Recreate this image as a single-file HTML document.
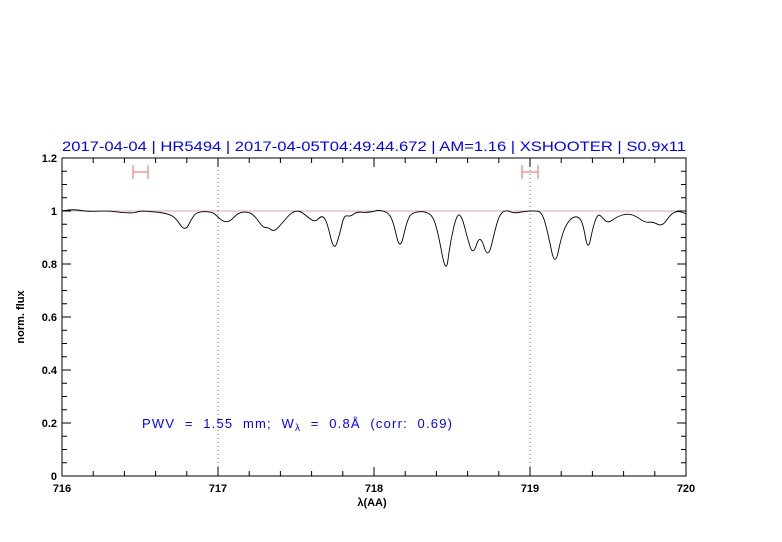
<!DOCTYPE html>
<html><head><meta charset="utf-8"><style>html,body{margin:0;padding:0;background:#fff}svg{display:block}</style></head>
<body>
<svg width="782" height="542" viewBox="0 0 782 542" xmlns="http://www.w3.org/2000/svg" font-family="'Liberation Sans',sans-serif">
<rect width="782" height="542" fill="#fff"/>
<text x="374" y="151" text-anchor="middle" fill="#0000ff" font-size="14" textLength="624" lengthAdjust="spacingAndGlyphs">2017-04-04 | HR5494 | 2017-04-05T04:49:44.672 | AM=1.16 | XSHOOTER | S0.9x11</text>
<line x1="62" y1="211" x2="686" y2="211" stroke="#c09090" stroke-width="0.7"/>
<line x1="218" y1="158" x2="218" y2="476" stroke="#444" stroke-width="0.8" stroke-dasharray="1,3"/>
<line x1="530" y1="158" x2="530" y2="476" stroke="#444" stroke-width="0.8" stroke-dasharray="1,3"/>
<g stroke="#f08080" stroke-width="1.2">
<line x1="133" y1="172" x2="148" y2="172"/><line x1="133" y1="165" x2="133" y2="179"/><line x1="148" y1="165" x2="148" y2="179"/>
<line x1="522" y1="172" x2="538" y2="172"/><line x1="522" y1="165" x2="522" y2="179"/><line x1="538" y1="165" x2="538" y2="179"/>
</g>
<path fill="none" stroke="#000" stroke-width="0.9" d="M62,211 L63,210.7 Q63,210.7 69,210 Q75,209.3 81.5,210.5 Q88,211.7 98,211.2 Q108,210.7 115,211.7 Q122,212.7 128.5,212.85 Q135,213 137.5,211.85 Q140,210.7 147.5,211.35 Q155,212 160,212.5 Q165,213 170,214.85 Q175,216.7 180,224.35 Q185,232 188.5,225 Q192,218 194.5,214.85 Q197,211.7 204.5,211.7 Q212,211.7 214.5,213.85 Q217,216 220,218.85 Q223,221.7 226.5,221.7 Q230,221.7 234,217.2 Q238,212.7 243,212.2 Q248,211.7 251.5,213.85 Q255,216 259,221.85 Q263,227.7 265.5,227.5 Q268,227.3 271,229.65 Q274,232 278,227.65 Q282,223.3 287,217.5 Q292,211.7 296,211.2 Q300,210.7 304,214 Q308,217.3 311.5,219.8 Q315,222.3 318.5,218.65 Q322,215 324.5,218.35 Q327,221.7 330.5,236.85 Q334,252 337,242.65 Q340,233.3 342,224.15 Q344,215 347,215.85 Q350,216.7 353.5,214.2 Q357,211.7 361,212.2 Q365,212.7 370,212 Q375,211.3 376,210.65 Q377,210 382,210.85 Q387,211.7 390,215.85 Q393,220 396.5,236 Q400,252 403.5,236 Q407,220 410,215.85 Q413,211.7 421.5,211.7 Q430,211.7 433.5,219.2 Q437,226.7 441.5,251.35 Q446,276 448,259.65 Q450,243.3 453.5,228.3 Q457,213.3 459.5,215 Q462,216.7 464.5,226.7 Q467,236.7 470,246.35 Q473,256 476.5,244.65 Q480,233.3 484,246.65 Q488,260 491.5,245 Q495,230 497.5,221.65 Q500,213.3 503.5,211.65 Q507,210 510,211.65 Q513,213.3 518,212.5 Q523,211.7 528,211.2 Q533,210.7 537.5,211.2 Q542,211.7 545,222.5 Q548,233.3 551.5,250.65 Q555,268 558.5,250.65 Q562,233.3 566,225.8 Q570,218.3 574,217.15 Q578,216 580.5,219.65 Q583,223.3 585.5,237.65 Q588,252 590.5,239.35 Q593,226.7 595.5,220 Q598,213.3 600.5,215.8 Q603,218.3 605.5,220.8 Q608,223.3 612.5,220 Q617,216.7 622.5,215 Q628,213.3 632.5,215 Q637,216.7 641,219.7 Q645,222.7 649,222.2 Q653,221.7 657.5,224.2 Q662,226.7 666,220.85 Q670,215 673.5,212.85 Q677,210.7 681,212 Q685,213.3 686,214"/>
<rect x="62" y="158" width="624" height="318" fill="none" stroke="#000" stroke-width="1"/>
<g stroke="#000" stroke-width="1">
<path d="M62,476v-9M218,476v-9M374,476v-9M530,476v-9M686,476v-9M62,158v9M218,158v9M374,158v9M530,158v9M686,158v9
M93.2,476v-5M124.4,476v-5M155.6,476v-5M186.8,476v-5M249.2,476v-5M280.4,476v-5M311.6,476v-5M342.8,476v-5M405.2,476v-5M436.4,476v-5M467.6,476v-5M498.8,476v-5M561.2,476v-5M592.4,476v-5M623.6,476v-5M654.8,476v-5
M93.2,158v5M124.4,158v5M155.6,158v5M186.8,158v5M249.2,158v5M280.4,158v5M311.6,158v5M342.8,158v5M405.2,158v5M436.4,158v5M467.6,158v5M498.8,158v5M561.2,158v5M592.4,158v5M623.6,158v5M654.8,158v5"/>
<path d="M62,476h9M62,423h9M62,370h9M62,317h9M62,264h9M62,211h9M62,158h9M686,476h-9M686,423h-9M686,370h-9M686,317h-9M686,264h-9M686,211h-9M686,158h-9
M62,462.75h5M62,449.5h5M62,436.25h5M62,409.75h5M62,396.5h5M62,383.25h5M62,356.75h5M62,343.5h5M62,330.25h5M62,303.75h5M62,290.5h5M62,277.25h5M62,250.75h5M62,237.5h5M62,224.25h5M62,197.75h5M62,184.5h5M62,171.25h5
M686,462.75h-5M686,449.5h-5M686,436.25h-5M686,409.75h-5M686,396.5h-5M686,383.25h-5M686,356.75h-5M686,343.5h-5M686,330.25h-5M686,303.75h-5M686,290.5h-5M686,277.25h-5M686,250.75h-5M686,237.5h-5M686,224.25h-5M686,197.75h-5M686,184.5h-5M686,171.25h-5"/>
</g>
<g font-size="11" fill="#000" text-anchor="end" font-weight="bold">
<text x="57" y="480">0</text><text x="57" y="427">0.2</text><text x="57" y="374">0.4</text><text x="57" y="321">0.6</text><text x="57" y="268">0.8</text><text x="57" y="215">1</text><text x="57" y="162">1.2</text>
</g>
<g font-size="11" fill="#000" text-anchor="middle" font-weight="bold">
<text x="62" y="492">716</text><text x="218" y="492">717</text><text x="374" y="492">718</text><text x="530" y="492">719</text><text x="686" y="492">720</text>
<text x="372" y="506">λ(AA)</text>
<text transform="translate(24,317) rotate(-90)">norm. flux</text>
</g>
<text x="142" y="428" fill="#0000ff" font-size="13" xml:space="preserve" textLength="310">PWV  =  1.55  mm;  W<tspan font-size="10" dy="3">λ</tspan><tspan dy="-3">  =  0.8Å  (corr:  0.69)</tspan></text>
</svg>
</body></html>
